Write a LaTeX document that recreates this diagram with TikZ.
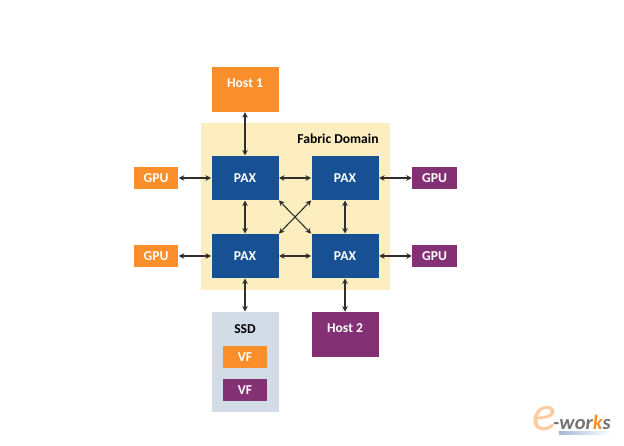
\documentclass[tikz,border=0pt]{standalone}
\usepackage{fontspec}
\setmainfont{Carlito}
\usetikzlibrary{arrows.meta,positioning}
\definecolor{cOrange}{HTML}{F98E2B}
\definecolor{cPurple}{HTML}{833174}
\definecolor{cBlue}{HTML}{175093}
\definecolor{cDomain}{HTML}{FDEEBF}
\definecolor{cSSD}{HTML}{D2DCE6}
\definecolor{cLine}{HTML}{2E2E2E}
\newcommand{\labelfont}{\fontsize{13.6}{15}\selectfont\bfseries}
\tikzset{
  box/.style={rectangle,inner sep=0pt,font=\labelfont,text=white},
  pax/.style={box,fill=cBlue,minimum width=67pt,minimum height=44pt},
  hostbox/.style={box,minimum width=67pt,minimum height=44.5pt},
  small/.style={box,minimum width=44.5pt,minimum height=22pt},
  link/.style={draw=cLine,line width=1.1pt,{Stealth[length=5.5pt,width=5.5pt]}-{Stealth[length=5.5pt,width=5.5pt]},shorten >=0.3pt,shorten <=0.3pt},
}
\begin{document}
\begin{tikzpicture}[x=1pt,y=-1pt]
\useasboundingbox (0,0) rectangle (624,446);
\fill[white] (0,0) rectangle (624,446);
% containers
\node[rectangle,inner sep=0pt,fill=cDomain,minimum width=189pt,minimum height=167.5pt] (domain) at (295.5,206.5) {};
\node[rectangle,inner sep=0pt,fill=cSSD,minimum width=67pt,minimum height=100pt] (ssd) at (245,362) {};
\node[font=\labelfont,text=black,inner sep=0pt] (fabric) at (338,139) {Fabric Domain};
\node[font=\labelfont,text=black,inner sep=0pt] (ssdlabel) at (245,329) {SSD};
% hosts
\node[hostbox,fill=cOrange] (host1) at (245,89.3) {};
\node[font=\labelfont,text=white,inner sep=0pt] (host1t) at (245,83) {Host 1};
\node[hostbox,fill=cPurple] (host2) at (345,334.5) {};
\node[font=\labelfont,text=white,inner sep=0pt] (host2t) at (345,328.5) {Host 2};
% PAX
\node[pax] (p1) at (245,178) {PAX};
\node[pax] (p2) at (345,178) {PAX};
\node[pax] (p3) at (245,256) {PAX};
\node[pax] (p4) at (345,256) {PAX};
% GPU
\node[small,fill=cOrange] (g1) at (156,178) {GPU};
\node[small,fill=cOrange] (g3) at (156,256) {GPU};
\node[small,fill=cPurple] (g2) at (434.5,178) {GPU};
\node[small,fill=cPurple] (g4) at (434.5,256) {GPU};
% VF
\node[small,fill=cOrange] (vf1) at (245,357) {VF};
\node[small,fill=cPurple] (vf2) at (245,390.3) {VF};
% links
\draw[link] (host1.south) -- (p1.north);
\draw[link] (g1.east) -- (p1.west);
\draw[link] (g3.east) -- (p3.west);
\draw[link] (p2.east) -- (g2.west);
\draw[link] (p4.east) -- (g4.west);
\draw[link] (p1.east) -- (p2.west);
\draw[link] (p3.east) -- (p4.west);
\draw[link] (p1.south) -- (p3.north);
\draw[link] (p2.south) -- (p4.north);
\draw[link] (p1.south east) -- (p4.north west);
\draw[link] (p2.south west) -- (p3.north east);
\draw[link] (p3.south) -- (ssd.north);
\draw[link] (p4.south) -- (host2.north);
% watermark
\shade[left color=cBlue!40,right color=white] (559,431) rectangle (611,434.5);
\node[inner sep=0pt,text=cOrange!45,scale=1.25,font=\fontsize{40}{40}\selectfont\itshape] (wme) at (544,419) {e};
\node[inner sep=0pt,anchor=west,text=black!55,font=\fontsize{20.5}{20}\selectfont\bfseries\itshape] (wmw) at (553,422) {-wor\textcolor{cOrange}{k}s};
\end{tikzpicture}
\end{document}
